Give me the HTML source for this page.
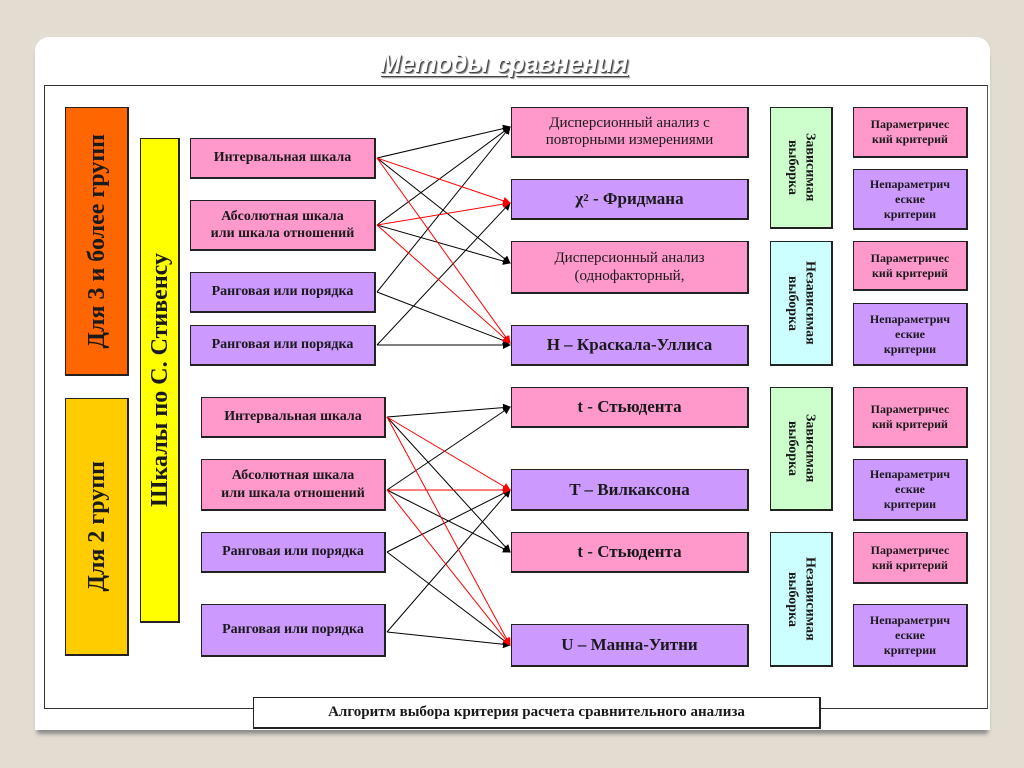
<!DOCTYPE html>
<html><head><meta charset="utf-8"><style>
body{margin:0;width:1024px;height:768px;background:#e3ddd1;position:relative;overflow:hidden;font-family:"Liberation Serif",serif;}
.card{position:absolute;left:35px;top:37px;width:955px;height:693px;background:#fff;border-radius:14px 14px 0 0;box-shadow:0 6px 4px -2px #8a8a8a;}
.frame{position:absolute;left:44px;top:85px;width:942px;height:622px;border:1.5px solid #333;border-right:1px solid #555;}
.b{position:absolute;box-sizing:border-box;border:1px solid #222;border-right:2px solid #222;border-bottom:2px solid #222;display:flex;align-items:center;justify-content:center;text-align:center;font-weight:bold;color:#1a1a1a;line-height:1.25;}
.pk{background:#ff99cc}.pu{background:#cc99ff}.gr{background:#ccffcc}.cy{background:#ccffff}
.s{font-size:14px}.m{font-size:17px}.r{font-size:12px}.w{font-size:14px}
.v{writing-mode:vertical-rl;}
.up{writing-mode:vertical-rl;transform:rotate(180deg);}
.title{position:absolute;left:380px;top:50px;font:italic bold 25px "Liberation Sans",sans-serif;color:#fff;text-decoration:underline;text-shadow:1px 1px 0 #444,2px 2px 1px #888;}
</style></head><body>
<div class="card"></div>
<div class="frame"></div>
<div class="title">Методы сравнения</div>

<div class="b" style="left:65px;top:107px;width:64px;height:269px;background:#ff6600;font-size:24px"><span class="up">Для 3 и более групп</span></div>
<div class="b" style="left:65px;top:398px;width:64px;height:258px;background:#ffcc00;font-size:24px"><span class="up">Для 2 групп</span></div>
<div class="b" style="left:140px;top:138px;width:40px;height:485px;background:#ffff00;font-size:24px;overflow:hidden;justify-content:center"><span class="up" style="white-space:nowrap">Шкалы по С. Стивенсу</span></div>

<div class="b pk s" style="left:190px;top:138px;width:186px;height:41px">Интервальная шкала</div>
<div class="b pk s" style="left:190px;top:200px;width:186px;height:51px">Абсолютная шкала<br>или шкала отношений</div>
<div class="b pu s" style="left:190px;top:272px;width:186px;height:41px">Ранговая или порядка</div>
<div class="b pu s" style="left:190px;top:325px;width:186px;height:41px">Ранговая или порядка</div>

<div class="b pk s" style="left:201px;top:397px;width:185px;height:41px">Интервальная шкала</div>
<div class="b pk s" style="left:201px;top:459px;width:185px;height:52px">Абсолютная шкала<br>или шкала отношений</div>
<div class="b pu s" style="left:201px;top:532px;width:185px;height:41px">Ранговая или порядка</div>
<div class="b pu s" style="left:201px;top:604px;width:185px;height:53px">Ранговая или порядка</div>

<div class="b pk" style="left:511px;top:107px;width:238px;height:51px;font-weight:normal;font-size:15px;line-height:1.15">Дисперсионный анализ с<br>повторными измерениями</div>
<div class="b pu m" style="left:511px;top:179px;width:238px;height:41px">χ<sup style="font-size:11px">2</sup>&nbsp;- Фридмана</div>
<div class="b pk" style="left:511px;top:241px;width:238px;height:53px;font-weight:normal;font-size:15px;line-height:1.2">Дисперсионный анализ<br>(однофакторный,</div>
<div class="b pu m" style="left:511px;top:325px;width:238px;height:41px">H – Краскала-Уллиса</div>
<div class="b pk m" style="left:511px;top:387px;width:238px;height:41px">t - Стьюдента</div>
<div class="b pu m" style="left:511px;top:469px;width:238px;height:42px">T – Вилкаксона</div>
<div class="b pk m" style="left:511px;top:532px;width:238px;height:41px">t - Стьюдента</div>
<div class="b pu m" style="left:511px;top:624px;width:238px;height:43px">U – Манна-Уитни</div>

<div class="b gr w" style="left:770px;top:107px;width:63px;height:122px"><span class="v">Зависимая<br>выборка</span></div>
<div class="b cy w" style="left:770px;top:241px;width:63px;height:125px"><span class="v">Независимая<br>выборка</span></div>
<div class="b gr w" style="left:770px;top:387px;width:63px;height:124px"><span class="v">Зависимая<br>выборка</span></div>
<div class="b cy w" style="left:770px;top:532px;width:63px;height:135px"><span class="v">Независимая<br>выборка</span></div>

<div class="b pk r" style="left:853px;top:107px;width:115px;height:51px">Параметричес<br>кий критерий</div>
<div class="b pu r" style="left:853px;top:169px;width:115px;height:61px">Непараметрич<br>еские<br>критерии</div>
<div class="b pk r" style="left:853px;top:241px;width:115px;height:50px">Параметричес<br>кий критерий</div>
<div class="b pu r" style="left:853px;top:303px;width:115px;height:63px">Непараметрич<br>еские<br>критерии</div>
<div class="b pk r" style="left:853px;top:387px;width:115px;height:61px">Параметричес<br>кий критерий</div>
<div class="b pu r" style="left:853px;top:459px;width:115px;height:62px">Непараметрич<br>еские<br>критерии</div>
<div class="b pk r" style="left:853px;top:532px;width:115px;height:52px">Параметричес<br>кий критерий</div>
<div class="b pu r" style="left:853px;top:604px;width:115px;height:63px">Непараметрич<br>еские<br>критерии</div>

<div class="b" style="left:253px;top:697px;width:568px;height:32px;background:#fff;font-size:15px">Алгоритм выбора критерия расчета сравнительного анализа</div>

<svg width="1024" height="768" style="position:absolute;left:0;top:0" fill="none">
<defs>
<marker id="ak" markerWidth="8" markerHeight="8" refX="7" refY="4" orient="auto" markerUnits="userSpaceOnUse"><path d="M0,0L8,4L0,8z" fill="#000"/></marker>
<marker id="ar" markerWidth="8" markerHeight="8" refX="7" refY="4" orient="auto" markerUnits="userSpaceOnUse"><path d="M0,0L8,4L0,8z" fill="#f00"/></marker>
</defs>
<g stroke="#000" stroke-width="1" marker-end="url(#ak)">
<line x1="377" y1="158" x2="510" y2="127"/>
<line x1="377" y1="158" x2="510" y2="263"/>
<line x1="377" y1="225" x2="510" y2="127"/>
<line x1="377" y1="225" x2="510" y2="263"/>
<line x1="377" y1="292" x2="510" y2="127"/>
<line x1="377" y1="292" x2="510" y2="343"/>
<line x1="377" y1="345" x2="510" y2="203"/>
<line x1="377" y1="345" x2="510" y2="345"/>
<line x1="387" y1="417" x2="510" y2="407"/>
<line x1="387" y1="417" x2="510" y2="552"/>
<line x1="387" y1="490" x2="510" y2="407"/>
<line x1="387" y1="490" x2="510" y2="552"/>
<line x1="387" y1="552" x2="510" y2="490"/>
<line x1="387" y1="552" x2="510" y2="645"/>
<line x1="387" y1="632" x2="510" y2="490"/>
<line x1="387" y1="632" x2="510" y2="645"/>
</g>
<g stroke="#f00" stroke-width="1" marker-end="url(#ar)">
<line x1="377" y1="158" x2="510" y2="203"/>
<line x1="377" y1="158" x2="510" y2="343"/>
<line x1="377" y1="225" x2="510" y2="203"/>
<line x1="377" y1="225" x2="510" y2="343"/>
<line x1="387" y1="417" x2="510" y2="490"/>
<line x1="387" y1="417" x2="510" y2="645"/>
<line x1="387" y1="490" x2="510" y2="490"/>
<line x1="387" y1="490" x2="510" y2="645"/>
</g>
</svg>
</body></html>
